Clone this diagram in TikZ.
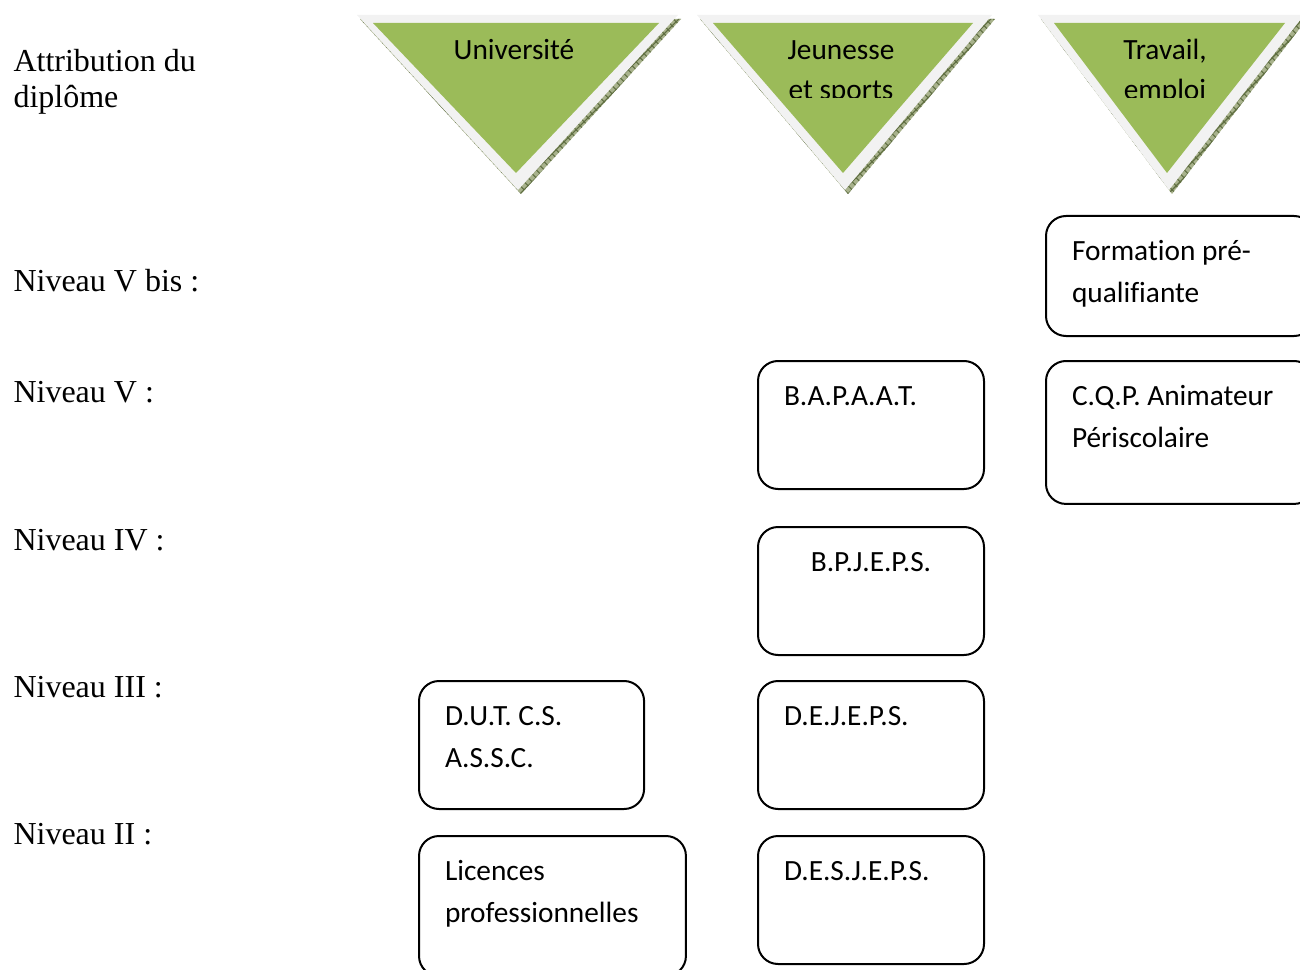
\documentclass[tikz,border=0pt]{standalone}
\usepackage{fontspec}
\setmainfont{Liberation Serif}
\newfontfamily\calibri[Ligatures={NoCommon,NoContextual,NoRare},Contextuals=NoAlternate]{Carlito}
\usepackage{tikz}
\usetikzlibrary{patterns}
\definecolor{vert}{RGB}{155,187,89}
\definecolor{grisclair}{RGB}{242,242,242}
\definecolor{ombre}{RGB}{168,178,140}
\definecolor{ombrefonce}{RGB}{95,110,65}

\begin{document}
\begin{tikzpicture}[x=0.375pt,y=-0.375pt,
  niveau/.style={anchor=base west,font=\fontsize{12}{13.5}\selectfont},
  titre/.style={anchor=base,align=flush center,text width=60pt,inner sep=0pt,font=\calibri\fontsize{11}{15}\selectfont},
  diplome/.style 2 args={draw,line width=0.75pt,rounded corners=7.5pt,anchor=north west,inner xsep=9.75pt,inner ysep=0pt,
    text height=16.5pt,text width=#1,text depth=#2,align=flush left,font=\calibri\fontsize{11}{16.1}\selectfont}]
\useasboundingbox (0,0) rectangle (1300,970);
% les trois triangles
\foreach \l/\r/\a/\t/\nom in {357/678/518/Université/univ,697/992/845/{Jeunesse\\et sports}/jeunesse,1038/1304/1169/{Travail,\\emploi}/travail}{
  \fill[ombre] (\l+3,19)--(\r+3,19)--(\a+3,194)--cycle;
  \fill[pattern=crosshatch,pattern color=ombrefonce] (\l+3,19)--(\r+3,19)--(\a+3,194)--cycle;
  \fill[grisclair] (\l,15)--(\r,15)--(\a,190)--cycle;
  \fill[vert] (\l+16,23)--(\r-19,23)--(\a-2,173)--cycle;
  \begin{scope}
  \clip (\l,28) rectangle (\r,98);
  \node[titre] (\nom) at (\a-4,60) {\t};
  \end{scope}
}
% niveaux
\node[niveau,align=flush left,text width=100pt,inner sep=0pt] (attr) at (13,72) {Attribution du\\diplôme};
\foreach \y/\txt/\nom in {292/Niveau V bis :/nvbis,402/Niveau V :/nv,550/Niveau IV :/niv,697/Niveau III :/niii,844/Niveau II :/nii}
  \node[niveau,inner sep=0pt] (\nom) at (13,\y) {\txt};
% diplomes
\node[diplome={81pt}{28.5pt}] (prequal) at (1045,215) {Formation pré-\\qualifiante};
\node[diplome={81pt}{37.1pt}] (cqp) at (1045,360) {C.Q.P. Animateur\\Périscolaire};
\node[diplome={65.25pt}{31.5pt}] (bapaat) at (757,360) {B.A.P.A.A.T.};
\node[diplome={65.25pt}{31.5pt},align=flush center] (bpjeps) at (757,526) {B.P.J.E.P.S.};
\node[diplome={65.25pt}{31.5pt}] (dejeps) at (757,680) {D.E.J.E.P.S.};
\node[diplome={65.25pt}{31.5pt}] (desjeps) at (757,835) {D.E.S.J.E.P.S.};
\node[diplome={64.9pt}{31.5pt}] (dut) at (418,680) {D.U.T. C.S.\\A.S.S.C.};
\node[diplome={80.6pt}{36pt}] (licences) at (418,835) {Licences\\professionnelles};
\end{tikzpicture}
\end{document}
